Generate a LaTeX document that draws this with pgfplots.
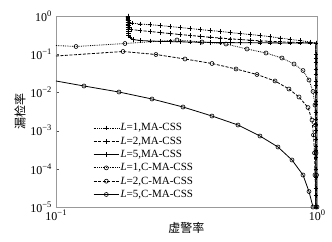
\documentclass[border=0pt]{standalone}
\usepackage{fontspec}
\setmainfont{Liberation Serif}
\newfontfamily\cjk{Noto Sans CJK SC}
\usepackage{pgfplots}
\pgfplotsset{compat=1.18}
\newcommand{\ex}[1]{10\raisebox{0.42em}{\fontsize{8.5}{8.5}\selectfont #1}}
\begin{document}
\begin{tikzpicture}
\useasboundingbox (-56pt,-34pt) rectangle (276pt,207pt);
\begin{axis}[
  scale only axis, width=261pt, height=191pt,
  xmode=log, ymode=log, xmin=0.1, xmax=1, ymin=1e-5, ymax=1,
  xtick={0.1,1}, xticklabels={\ex{−1},\ex{0}},
  ytick={1e-5,1e-4,1e-3,1e-2,1e-1,1},
  yticklabels={\ex{−5},\ex{−4},\ex{−3},\ex{−2},\ex{−1},\ex{0}},
  xminorticks=false, yminorticks=false,
  tick pos=left, tick align=inside, major tick length=3pt,
  axis line style={black!40, line width=0.9pt}, tick style={black!70},
  tick label style={font=\fontsize{12}{13}\selectfont},
  yticklabel style={xshift=-1pt},
  xticklabel style={yshift=1pt},
  xlabel={\cjk 虚警率}, ylabel={\cjk 漏检率},
  label style={font=\fontsize{12}{13}\selectfont},
  xlabel style={at={(axis description cs:0.5,-0.11)}, anchor=center},
  ylabel style={at={(axis description cs:-0.138,0.5)}, anchor=center},
  legend cell align=left,
  legend style={at={(axis description cs:0.13,0.46)}, anchor=north west, draw=none, fill=none,
    font=\fontsize{11}{12}\selectfont, row sep=0pt,
    nodes={inner sep=1pt, text height=8.5pt, text depth=2.8pt}},
  legend image code/.code={\draw[mark repeat=2,mark phase=2] plot coordinates {(0cm,0cm) (0.45cm,0cm) (0.9cm,0cm)};},
  every axis plot/.append style={black, line width=0.8pt},
]
% L=1 MA-CSS
\addplot[densely dotted, mark=+, mark size=2.3pt, mark options={solid, line width=0.6pt}] coordinates {
(0.1888,1.0)(0.1888,0.93)(0.1888,0.87)(0.1888,0.81)(0.1892,0.75)(0.1905,0.70)(0.1956,0.65)
(0.2098,0.617)(0.2292,0.590)(0.2503,0.564)(0.2734,0.531)(0.2987,0.500)(0.3262,0.471)(0.3562,0.443)
(0.3890,0.415)(0.4249,0.398)(0.4642,0.370)(0.5070,0.348)(0.5537,0.328)(0.6047,0.309)(0.6605,0.287)
(0.7215,0.2655)(0.7880,0.2455)(0.8608,0.2270)(0.9401,0.2087)(0.99,0.1964)
(0.99,0.08)(0.99,0.03)(0.99,0.01)(0.99,0.003)(0.99,1e-3)(0.99,3e-4)(0.99,1e-4)(0.99,3e-5)(0.99,1e-5)};
\addlegendentry{\textit{L}=1,MA-CSS}
% L=2 MA-CSS
\addplot[dash pattern=on 3pt off 1.5pt, mark=+, mark size=2.3pt, mark options={solid, line width=0.6pt}] coordinates {
(0.1888,1.0)(0.1888,0.92)(0.1888,0.84)(0.1888,0.76)(0.1888,0.69)(0.1888,0.62)(0.1895,0.56)(0.1905,0.515)
(0.1938,0.443)(0.2098,0.417)(0.2292,0.393)(0.2503,0.370)(0.2734,0.348)(0.2987,0.328)(0.3262,0.310)
(0.3562,0.294)(0.3890,0.279)(0.4249,0.2655)(0.4642,0.253)(0.5070,0.2425)(0.5537,0.2326)(0.6047,0.2243)
(0.6605,0.2177)(0.7215,0.2112)(0.7880,0.2061)(0.8608,0.2024)(0.9401,0.1988)(0.99,0.1964)
(0.99,0.06)(0.99,0.02)(0.99,0.005)(0.99,1.5e-3)(0.99,4e-4)(0.99,1e-4)(0.99,2e-5)(0.99,1e-5)};
\addlegendentry{\textit{L}=2,MA-CSS}
% L=5 MA-CSS
\addplot[solid, mark=+, mark size=2.3pt, mark options={solid, line width=0.6pt}] coordinates {
(0.1888,1.0)(0.1888,0.92)(0.1888,0.84)(0.1888,0.76)(0.1888,0.69)(0.1888,0.62)(0.1888,0.56)(0.1888,0.50)
(0.1890,0.45)(0.1892,0.40)(0.1894,0.36)(0.1896,0.32)(0.1921,0.282)(0.1972,0.2425)(0.2098,0.2284)
(0.2292,0.2216)(0.2503,0.2177)(0.2734,0.2138)(0.2987,0.2112)(0.3262,0.2087)(0.3562,0.2061)(0.3890,0.2036)
(0.4249,0.2024)(0.4642,0.2012)(0.5070,0.2000)(0.5537,0.1994)(0.6047,0.1988)(0.6605,0.1982)(0.7215,0.1976)
(0.7880,0.1970)(0.8608,0.1964)(0.9401,0.1964)(0.99,0.1964)
(0.99,0.1)(0.99,0.04)(0.99,0.015)(0.99,0.006)(0.99,2e-3)(0.99,6e-4)(0.99,2e-4)(0.99,6e-5)(0.99,1e-5)};
\addlegendentry{\textit{L}=5,MA-CSS}
% L=1 C-MA-CSS
\addplot[densely dotted, mark=o, mark size=2pt, mark phase=2, mark options={solid, line width=0.6pt}] coordinates {
(0.1,0.1689)(0.1193,0.1590)(0.1838,0.1906)(0.2908,0.2353)(0.3626,0.2087)(0.4480,0.1849)(0.5393,0.1368)
(0.6377,0.1075)(0.7342,0.0795)(0.8163,0.0554)(0.8839,0.0374)(0.9318,0.0211)(0.9654,0.01056)
(0.9825,0.00468)(0.9868,0.00140)(0.9912,2.59e-4)(0.9956,6.88e-5)(1.0,1e-5)};
\addlegendentry{\textit{L}=1,C-MA-CSS}
% L=2 C-MA-CSS
\addplot[dash pattern=on 3pt off 1.5pt, mark=o, mark size=2pt, mark phase=2, mark options={solid, line width=0.6pt}] coordinates {
(0.1,0.0897)(0.1806,0.1177)(0.2415,0.0982)(0.3121,0.0749)(0.3960,0.0571)(0.4895,0.0410)(0.5890,0.0294)
(0.6905,0.0199)(0.7809,0.01227)(0.8532,0.00758)(0.9237,0.00402)(0.9569,0.00189)(0.9696,7.67e-4)
(0.9782,2.59e-4)(0.9825,6.88e-5)(0.9912,1e-5)};
\addlegendentry{\textit{L}=2,C-MA-CSS}
% L=5 C-MA-CSS
\addplot[solid, mark=o, mark size=2pt, mark phase=2, mark options={solid, line width=0.6pt}] coordinates {
(0.1,0.0199)(0.1280,0.01471)(0.1743,0.01024)(0.2332,0.00672)(0.3066,0.00415)(0.3960,0.00241)
(0.4982,0.00140)(0.6047,7.22e-4)(0.7088,3.72e-4)(0.8020,1.70e-4)(0.8839,6.88e-5)(0.9318,2.54e-5)(0.9654,1e-5)};
\addlegendentry{\textit{L}=5,C-MA-CSS}
\end{axis}
\end{tikzpicture}
\end{document}
